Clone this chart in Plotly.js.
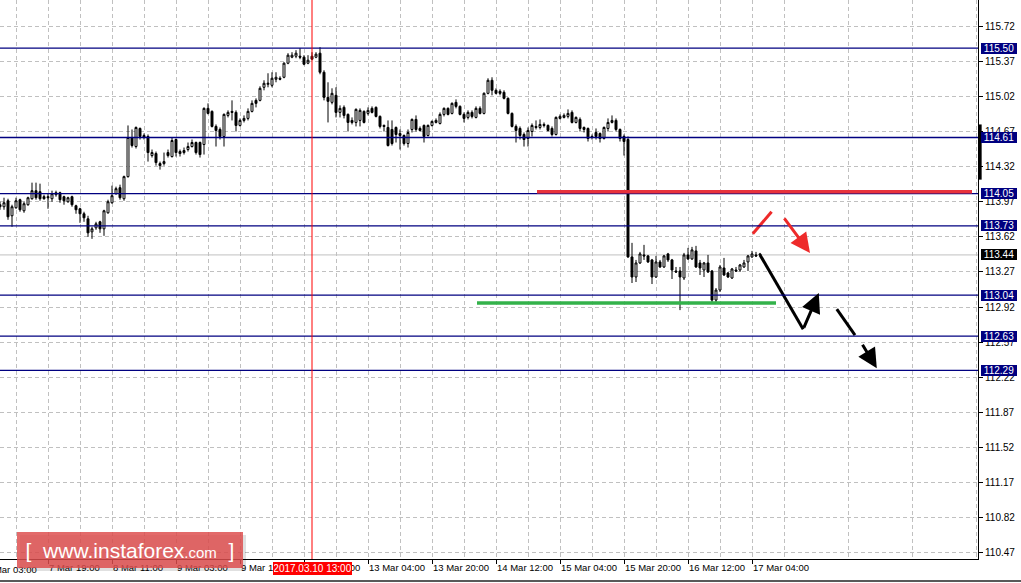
<!DOCTYPE html>
<html>
<head>
<meta charset="utf-8">
<script src="https://cdn.plot.ly/plotly-3.0.1.min.js"></script>
<style>
html,body{margin:0;padding:0;background:#fff;}
#chart{width:1021px;height:583px;}
</style>
</head>
<body>
<div id="chart"></div>
<script>
// ---- H1 candles, USD/JPY, 7-17 Mar 2017 ----
const openP = [
113.94,113.92,113.98,113.83,113.91,113.99,113.88,113.94,114.00,114.08,
114.07,114.02,114.02,114.00,114.04,114.06,114.02,113.97,114.02,113.93,
113.90,113.85,113.80,113.67,113.71,113.77,113.70,113.86,113.96,114.05,
114.11,114.00,114.22,114.61,114.52,114.70,114.63,114.62,114.43,114.45,
114.35,114.35,114.46,114.42,114.59,114.45,114.46,114.49,114.52,114.56,
114.56,114.54,114.90,114.87,114.72,114.69,114.62,114.83,114.87,114.86,
114.73,114.78,114.80,114.87,114.98,114.98,115.11,115.14,115.13,115.19,
115.20,115.21,115.35,115.41,115.42,115.42,115.41,115.35,115.42,115.41,
115.45,115.26,115.01,114.96,115.03,114.86,114.91,114.84,114.78,114.76,
114.78,114.87,114.85,114.90,114.91,114.82,114.73,114.71,114.69,114.71,
114.63,114.63,114.55,114.69,114.79,114.70,114.73,114.63,114.73,114.76,
114.75,114.84,114.90,114.85,114.96,114.92,114.84,114.81,114.86,114.81,
114.90,114.85,115.05,115.18,115.08,115.07,115.06,115.00,114.85,114.72,
114.70,114.64,114.60,114.67,114.72,114.71,114.74,114.73,114.70,114.64,
114.80,114.81,114.82,114.86,114.76,114.79,114.71,114.70,114.62,114.66,
114.65,114.60,114.70,114.76,114.78,114.69,114.62,114.59,113.42,113.22,
113.36,113.44,113.43,113.39,113.22,113.37,113.32,113.45,113.39,113.28,
113.28,113.21,113.44,113.40,113.48,113.36,113.29,113.36,113.28,112.99,
113.09,113.31,113.26,113.21,113.29,113.29,113.32,113.37,113.42,113.44,
113.45];
const highP = [
113.97,114.01,114.00,113.94,114.01,114.00,113.97,114.02,114.16,114.16,
114.15,114.04,114.05,114.08,114.08,114.07,114.03,114.02,114.03,113.94,
113.91,113.87,113.83,113.72,113.77,113.78,113.89,113.99,114.13,114.12,
114.14,114.23,114.73,114.69,114.72,114.71,114.65,114.64,114.49,114.47,
114.37,114.46,114.49,114.61,114.60,114.49,114.51,114.56,114.59,114.57,
114.57,114.91,114.95,114.88,114.74,114.71,114.85,114.88,114.98,114.88,
114.80,114.83,114.90,114.98,115.00,115.12,115.18,115.25,115.26,115.26,
115.22,115.36,115.45,115.46,115.48,115.50,115.43,115.43,115.46,115.46,
115.51,115.28,115.16,115.10,115.11,114.93,114.93,114.85,114.81,114.90,
114.90,114.88,114.91,114.92,114.92,114.83,114.74,114.78,114.78,114.72,
114.69,114.64,114.69,114.80,114.83,114.72,114.74,114.74,114.78,114.80,
114.86,114.91,114.91,114.96,114.99,114.93,114.86,114.88,114.88,114.92,
114.92,115.06,115.20,115.21,115.10,115.09,115.08,115.01,114.86,114.74,
114.72,114.66,114.71,114.75,114.78,114.79,114.76,114.74,114.72,114.82,
114.84,114.85,114.89,114.88,114.82,114.81,114.72,114.71,114.64,114.70,
114.66,114.72,114.80,114.83,114.80,114.70,114.64,114.62,113.56,113.39,
113.47,113.54,113.44,113.40,113.43,113.39,113.44,113.46,113.40,113.32,
113.32,113.46,113.51,113.52,113.53,113.39,113.37,113.44,113.29,113.11,
113.34,113.41,113.27,113.31,113.32,113.35,113.39,113.44,113.48,113.47,
113.46];
const lowP = [
113.89,113.89,113.79,113.72,113.90,113.87,113.86,113.93,113.99,113.99,
113.98,113.99,113.90,113.97,114.02,113.96,113.94,113.96,113.92,113.85,
113.76,113.77,113.62,113.60,113.69,113.66,113.63,113.85,113.95,114.04,
113.99,113.98,114.21,114.51,114.50,114.59,114.59,114.37,114.41,114.33,
114.29,114.33,114.41,114.41,114.42,114.42,114.44,114.47,114.51,114.44,
114.41,114.44,114.84,114.71,114.52,114.59,114.52,114.81,114.78,114.67,
114.72,114.76,114.78,114.86,114.91,114.97,115.08,115.11,115.11,115.16,
115.18,115.20,115.34,115.40,115.40,115.39,115.33,115.34,115.38,115.40,
115.24,114.98,114.76,114.94,114.81,114.81,114.80,114.67,114.74,114.72,
114.72,114.75,114.83,114.85,114.81,114.70,114.67,114.52,114.53,114.56,
114.49,114.53,114.51,114.66,114.67,114.67,114.56,114.62,114.72,114.75,
114.74,114.82,114.83,114.84,114.90,114.83,114.76,114.79,114.80,114.80,
114.84,114.84,115.04,115.03,115.04,115.03,114.99,114.84,114.71,114.56,
114.59,114.52,114.52,114.62,114.69,114.69,114.71,114.67,114.62,114.63,
114.79,114.80,114.80,114.75,114.75,114.67,114.66,114.57,114.59,114.59,
114.56,114.59,114.67,114.75,114.67,114.57,114.43,113.41,113.16,113.17,
113.35,113.39,113.36,113.15,113.21,113.31,113.31,113.37,113.20,113.26,
112.89,113.19,113.39,113.39,113.31,113.24,113.22,113.26,112.97,112.97,
113.07,113.23,113.21,113.20,113.27,113.27,113.31,113.28,113.41,113.42,
113.43];
const closeP = [
113.92,113.96,113.82,113.92,113.98,113.89,113.95,114.01,114.08,114.01,
114.00,114.00,114.01,114.05,114.06,113.99,113.98,114.01,113.94,113.89,
113.85,113.81,113.66,113.70,113.75,113.70,113.88,113.97,114.03,114.10,
114.01,114.22,114.61,114.53,114.71,114.62,114.61,114.46,114.46,114.36,
114.33,114.37,114.43,114.58,114.46,114.47,114.48,114.52,114.56,114.46,
114.44,114.90,114.85,114.72,114.68,114.62,114.84,114.86,114.86,114.73,
114.78,114.80,114.87,114.95,114.95,115.10,115.15,115.15,115.20,115.21,
115.19,115.35,115.43,115.43,115.45,115.41,115.34,115.38,115.39,115.44,
115.26,115.01,114.97,115.05,114.86,114.90,114.83,114.76,114.76,114.89,
114.88,114.76,114.88,114.86,114.82,114.72,114.72,114.53,114.55,114.64,
114.65,114.55,114.66,114.79,114.69,114.68,114.62,114.73,114.77,114.78,
114.84,114.90,114.84,114.95,114.92,114.84,114.80,114.86,114.82,114.90,
114.85,115.05,115.18,115.08,115.05,115.05,115.00,114.85,114.72,114.68,
114.63,114.59,114.68,114.73,114.71,114.74,114.73,114.68,114.64,114.81,
114.82,114.83,114.85,114.76,114.81,114.70,114.69,114.60,114.61,114.62,
114.60,114.71,114.76,114.78,114.69,114.60,114.57,113.42,113.22,113.36,
113.45,113.43,113.37,113.22,113.37,113.32,113.43,113.39,113.29,113.27,
113.22,113.44,113.40,113.49,113.32,113.31,113.36,113.27,112.99,113.09,
113.32,113.24,113.22,113.30,113.28,113.34,113.36,113.43,113.45,113.43,
113.44];

// bar index of each labelled time (H1 bars, weekend skipped)
const timeTickIdx  = [12, 28, 44, 60, 76, 92, 108, 124, 140, 156, 172, 188];
const timeTickText = ["7 Mar 19:00","8 Mar 11:00","9 Mar 03:00","9 Mar 19:00","10 Mar 11:00",
                      "13 Mar 04:00","13 Mar 20:00","14 Mar 12:00","15 Mar 04:00","15 Mar 20:00",
                      "16 Mar 12:00","17 Mar 04:00"];
const firstTickIdx = -4, firstTickText = "7 Mar 03:00";
const gridIdx = [4,20,36,52,68,84,100,116,132,148,164,180,196,212,228,244];

const priceTicks = [115.72,115.37,115.02,114.67,114.32,113.97,113.62,113.27,112.92,112.57,112.22,111.87,111.52,111.17,110.82,110.47];
const levelPrices = [115.50, 114.61, 114.05, 113.73, 113.04, 112.63, 112.29];
const currentPrice = 113.44;
const cursorIdx = 78, cursorText = "2017.03.10 13:00";

// analyst drawings (bar index, price)
const resistLine = {x:[134.25, 243], y:[114.07, 114.07]};
const supportLine = {x:[119.25, 194], y:[112.96, 112.96]};
const redStroke = {x:[188.2, 192.9], y:[113.65, 113.87]};
const redArrow = {x0:195.8, y0:113.82, x1:202.5, y1:113.46};
const blackPath = {x:[190, 200.8], y:[113.44, 112.70]};
const blackArrow = {x0:200.8, y0:112.70, x1:204.7, y1:113.06};
const dashPath = {x:[209.2, 213.75], y:[112.90, 112.64]};
const dashArrow = {x0:215.4, y0:112.56, x1:219.2, y1:112.31};
const edgeBar = {y0:114.74, y1:114.19};

const XMAX = 244.5;
const FONT = "Liberation Sans, Arial, sans-serif";
const NAVY = "#000080";

const idx = openP.map((_, i) => i);

const traces = [
  {
    type: 'candlestick', x: idx, open: openP, high: highP, low: lowP, close: closeP,
    increasing: {line: {color: '#000', width: 1}, fillcolor: '#fff'},
    decreasing: {line: {color: '#000', width: 1}, fillcolor: '#000'},
    whiskerwidth: 0, hoverinfo: 'skip', showlegend: false
  },
  {type:'scatter', mode:'lines', x: redStroke.x, y: redStroke.y, line:{color:'#ee2a2a', width:3}, hoverinfo:'skip', showlegend:false},
  {type:'scatter', mode:'lines', x: blackPath.x, y: blackPath.y, line:{color:'#000', width:3}, hoverinfo:'skip', showlegend:false},
  {type:'scatter', mode:'lines', x: dashPath.x, y: dashPath.y, line:{color:'#000', width:3}, hoverinfo:'skip', showlegend:false}
];

const shapes = [];
shapes.push({type:'line', xref:'paper', x0:0, x1:1, yref:'y', y0:currentPrice, y1:currentPrice,
  line:{color:'#c0c0c0', width:1}, layer:'below'});
levelPrices.forEach(v => shapes.push({type:'line', xref:'paper', x0:0, x1:1, yref:'y', y0:v, y1:v,
  line:{color:NAVY, width:1.3}, layer:'above'}));
shapes.push({type:'line', xref:'x', x0:cursorIdx, x1:cursorIdx, yref:'paper', y0:0, y1:1,
  line:{color:'#ff0000', width:1}, layer:'above'});
shapes.push({type:'line', xref:'x', x0:resistLine.x[0], x1:resistLine.x[1], yref:'y', y0:resistLine.y[0], y1:resistLine.y[1],
  line:{color:'#e8323c', width:3.5}, layer:'above'});
shapes.push({type:'line', xref:'x', x0:supportLine.x[0], x1:supportLine.x[1], yref:'y', y0:supportLine.y[0], y1:supportLine.y[1],
  line:{color:'#33b24a', width:3.5}, layer:'above'});
shapes.push({type:'line', xref:'paper', x0:1.0022, x1:1.0022, yref:'y', y0:edgeBar.y0, y1:edgeBar.y1,
  line:{color:'#000', width:3}, layer:'above'});
shapes.push({type:'line', xref:'paper', x0:0, x1:1021/978, yref:'paper', y0:-22/559, y1:-22/559,
  line:{color:'#222', width:1.5}, layer:'above'});

const annotations = [];
function arrowAnn(a, color) {
  return {xref:'x', yref:'y', axref:'x', ayref:'y', x:a.x1, y:a.y1, ax:a.x0, ay:a.y0,
    showarrow:true, arrowhead:2, arrowsize:1.3, arrowwidth:3, arrowcolor:color, text:''};
}
annotations.push(arrowAnn(redArrow, '#ee2a2a'));
annotations.push(arrowAnn(blackArrow, '#000'));
annotations.push(arrowAnn(dashArrow, '#000'));

levelPrices.forEach(v => annotations.push({
  xref:'paper', x:1, xanchor:'left', xshift:3, yref:'y', y:v, yanchor:'middle',
  text: v.toFixed(2), showarrow:false, bgcolor:NAVY, borderwidth:0, borderpad:1,
  width:34, height:9, font:{family:FONT, size:10, color:'#fff'}
}));
annotations.push({
  xref:'paper', x:1, xanchor:'left', xshift:3, yref:'y', y:currentPrice, yanchor:'middle',
  text: currentPrice.toFixed(2), showarrow:false, bgcolor:'#000', borderwidth:0, borderpad:1,
  width:34, height:9, font:{family:FONT, size:10, color:'#fff'}
});
annotations.push({
  xref:'paper', x:firstTickIdx / XMAX, xanchor:'left', yref:'paper', y:0, yanchor:'top', yshift:-3,
  text:firstTickText, showarrow:false, font:{family:FONT, size:9.5, color:'#000'}
});
annotations.push({
  xref:'x', x:cursorIdx, xanchor:'center', yref:'paper', y:0, yanchor:'top', yshift:-3,
  text:cursorText, showarrow:false, bgcolor:'#ff0000', borderwidth:0, borderpad:1,
  width:77, height:11, font:{family:FONT, size:10, color:'#fff'}
});
// watermark shadow + box
annotations.push({
  xref:'paper', x:20/978, xanchor:'left', yref:'paper', y:(559-535)/559, yanchor:'top',
  text:'', showarrow:false, bgcolor:'rgba(0,0,0,0.12)', borderwidth:0, borderpad:0, width:226, height:36
});
annotations.push({
  xref:'paper', x:17/978, xanchor:'left', yref:'paper', y:(559-532)/559, yanchor:'top',
  text:"[  www.instaforex<span style='font-size:15px'>.com</span>  ]", showarrow:false,
  bgcolor:'rgba(222,78,78,0.84)', borderwidth:0, borderpad:0, width:226, height:36,
  font:{family:FONT, size:21, color:'#fff'}
});

const layout = {
  width:1021, height:583,
  margin:{l:0, r:43, t:0, b:24, pad:0},
  paper_bgcolor:'#fff', plot_bgcolor:'#fff',
  showlegend:false,
  xaxis:{
    range:[0, XMAX], tickmode:'array', tickvals: timeTickIdx, ticktext: timeTickText,
    tickangle:0, ticklabelposition:'outside right', ticks:'outside', ticklen:4, tickcolor:'#000', tickwidth:1,
    tickfont:{family:FONT, size:9.5, color:'#000'},
    showgrid:true, gridcolor:'#c0c0c0', griddash:'4px,3px', gridwidth:1,
    minor:{tickmode:'array', tickvals: gridIdx, ticks:'', showgrid:true, gridcolor:'#c0c0c0', griddash:'4px,3px', gridwidth:1},
    showline:true, linecolor:'#000', linewidth:1, zeroline:false,
    rangeslider:{visible:false}, fixedrange:true
  },
  yaxis:{
    side:'right', range:[110.41, 115.98], tickmode:'array', tickvals: priceTicks,
    ticktext: priceTicks.map(v => v.toFixed(2)),
    ticks:'outside', ticklen:4, tickcolor:'#000', tickwidth:1,
    tickfont:{family:FONT, size:10, color:'#000'},
    showgrid:true, gridcolor:'#c0c0c0', griddash:'4px,3px', gridwidth:1,
    showline:true, linecolor:'#000', linewidth:1, zeroline:false, fixedrange:true
  },
  shapes: shapes,
  annotations: annotations
};

Plotly.newPlot('chart', traces, layout, {staticPlot:true, displayModeBar:false});
</script>
</body>
</html>
